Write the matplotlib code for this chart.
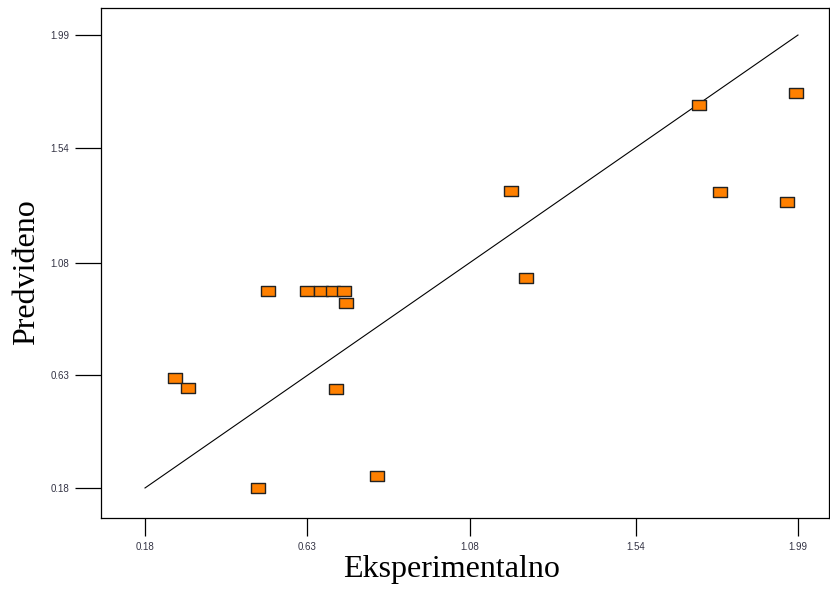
import numpy as np
import matplotlib
matplotlib.use("Agg")
from matplotlib import pyplot as plt
from matplotlib.path import Path

# actual vs predicted values
eksperimentalno = [0.263, 0.299, 0.493, 0.521, 0.630, 0.668, 0.701, 0.732, 0.737,
                   0.710, 0.823, 1.194, 1.236, 1.715, 1.774, 1.959, 1.984]
predvideno = [0.619, 0.578, 0.180, 0.969, 0.969, 0.969, 0.969, 0.969, 0.921,
              0.575, 0.227, 1.367, 1.019, 1.711, 1.362, 1.322, 1.760]
tick_vals = [0.18, 0.63, 1.08, 1.54, 1.99]
tick_labels = ["0.18", "0.63", "1.08", "1.54", "1.99"]

fig = plt.figure(figsize=(8.3, 5.9), dpi=100)
ax = fig.add_axes([101 / 830, 72 / 590, 728 / 830, 510 / 590])

# rectangular marker, wider than tall
rect = Path([(-0.7, -0.5), (0.7, -0.5), (0.7, 0.5), (-0.7, 0.5), (-0.7, -0.5)],
            [Path.MOVETO, Path.LINETO, Path.LINETO, Path.LINETO, Path.CLOSEPOLY])

ax.plot([tick_vals[0], tick_vals[-1]], [tick_vals[0], tick_vals[-1]],
        color="black", lw=0.8)
ax.plot(eksperimentalno, predvideno, linestyle="none", marker=rect, markersize=10.5,
        markerfacecolor="#ff8000", markeredgecolor="#222222", markeredgewidth=1.0)

ax.set_xlim(0.058, 2.076)
ax.set_ylim(0.060, 2.098)
ax.set_xticks(tick_vals)
ax.set_xticklabels(tick_labels, fontfamily="Liberation Sans")
ax.set_yticks(tick_vals)
ax.set_yticklabels(tick_labels, fontfamily="Liberation Sans")
ax.tick_params(axis="x", length=13, width=0.9, labelsize=7, pad=4, labelcolor="#333344")
ax.tick_params(axis="y", length=19, width=0.9, labelsize=7, pad=4, labelcolor="#333344")
for sp in ax.spines.values():
    sp.set_linewidth(0.9)

ax.set_xlabel("Eksperimentalno", fontfamily="Liberation Serif", fontsize=23)
ax.set_ylabel("Predviđeno", fontfamily="Liberation Serif", fontsize=23)
ax.xaxis.set_label_coords(0.481, -0.072)
ax.yaxis.set_label_coords(-0.082, 0.482)

fig.savefig("out.png", dpi=100)
